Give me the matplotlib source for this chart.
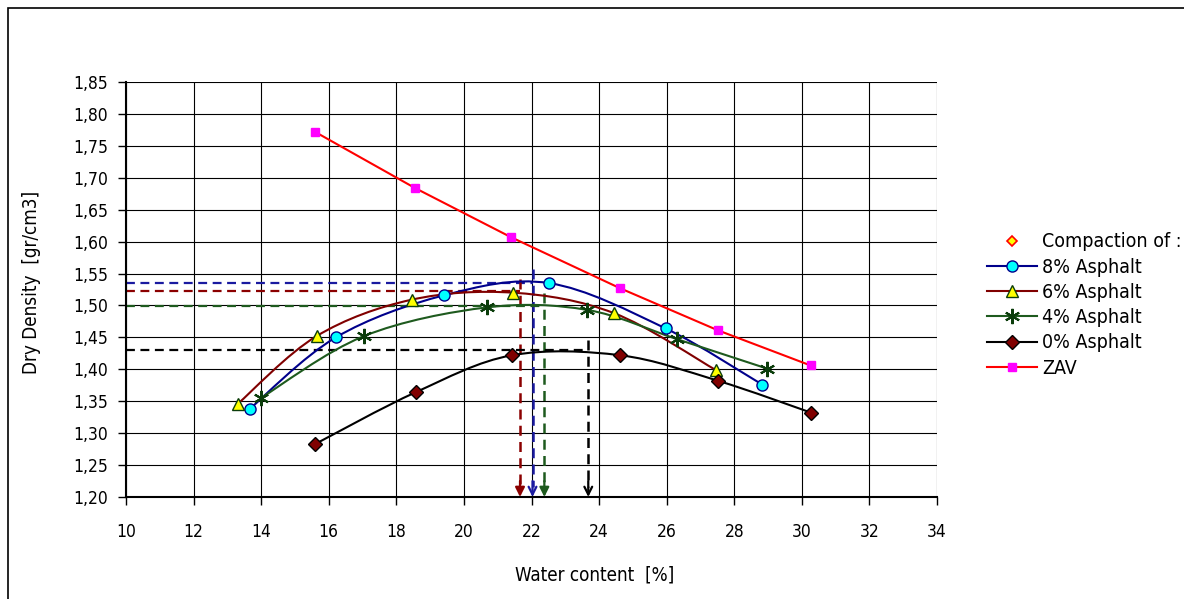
import matplotlib
matplotlib.use('Agg')
import matplotlib.pyplot as plt
import numpy as np
from matplotlib.path import Path
from matplotlib.patches import PathPatch, Rectangle
from matplotlib.lines import Line2D
from matplotlib.ticker import FuncFormatter, MultipleLocator

plt.rcParams['font.family'] = ['DejaVu Sans']
plt.rcParams['font.stretch'] = 'condensed'

# data
w_8 = [13.66, 16.21, 19.42, 22.52, 25.97, 28.83]
d_8 = [1.338, 1.450, 1.516, 1.535, 1.464, 1.376]
w_6 = [13.31, 15.64, 18.45, 21.46, 24.44, 27.45]
d_6 = [1.346, 1.452, 1.509, 1.520, 1.488, 1.399]
w_4 = [13.99, 17.04, 20.69, 23.65, 26.32, 28.98]
d_4 = [1.355, 1.452, 1.497, 1.493, 1.447, 1.401]
w_0 = [15.60, 18.57, 21.42, 24.63, 27.52, 30.28]
d_0 = [1.283, 1.364, 1.422, 1.422, 1.382, 1.332]
w_zav = [15.59, 18.55, 21.39, 24.62, 27.52, 30.26]
d_zav = [1.772, 1.684, 1.607, 1.527, 1.461, 1.406]

# optimum moisture / max dry density guide lines (8%, 6%, 4%, 0%)
opt_w = [22.03, 21.66, 22.38, 23.68]
max_d = [1.535, 1.522, 1.499, 1.430]
guide_top = [1.557, 1.542, 1.519, 1.446]
guide_col = ['#1a1aa0', '#8b0000', '#1e5a1e', 'black']
guide_head = ['->', '-|>', '-|>', '->']


def smooth_path(xs, ys):
    # excel style smoothed line (catmull-rom as bezier)
    p = np.column_stack([xs, ys])
    n = len(p)
    verts = [p[0]]
    codes = [Path.MOVETO]
    for i in range(n - 1):
        p0 = p[i - 1] if i > 0 else p[i]
        p3 = p[i + 2] if i + 2 < n else p[i + 1]
        c1 = p[i] + (p[i + 1] - p0) / 6
        c2 = p[i + 1] - (p3 - p[i]) / 6
        verts += [c1, c2, p[i + 1]]
        codes += [Path.CURVE4] * 3
    return Path(verts, codes)


fig = plt.figure(figsize=(11.84, 5.99), dpi=100)
ax = fig.add_axes([126 / 1184, 102 / 599, 811 / 1184, 415 / 599])
fig.patches.append(Rectangle((8 / 1184, -0.1), 1.2, 1.1 - 8 / 599, transform=fig.transFigure,
                             fill=False, ec='black', lw=1.2))

ax.set_xlim(10, 34)
ax.set_ylim(1.20, 1.85)
ax.xaxis.set_major_locator(MultipleLocator(2))
ax.yaxis.set_major_locator(MultipleLocator(0.05))
ax.yaxis.set_major_formatter(FuncFormatter(lambda v, p: f'{v:.2f}'.replace('.', ',')))
ax.grid(True, color='black', lw=0.8)
ax.set_axisbelow(True)
for s in ['top', 'right']:
    ax.spines[s].set_visible(False)
ax.spines['left'].set_linewidth(1.5)
ax.spines['bottom'].set_linewidth(1.5)
ax.tick_params(axis='y', direction='out', length=6, width=1, pad=7, labelsize=12.5)
ax.tick_params(axis='x', direction='out', length=6, width=1, pad=13, labelsize=12.5)

# guide lines
for x, y, top, c, hs in zip(opt_w, max_d, guide_top, guide_col, guide_head):
    ax.plot([10, x], [y, y], ls=(0, (4, 2.5)), color=c, lw=1.6, zorder=2)
    ax.plot([x, x], [top, 1.215], ls=(0, (4, 2.5)), color=c, lw=1.8, zorder=2)
    ax.annotate('', xy=(x, 1.20), xytext=(x, 1.225),
                arrowprops=dict(arrowstyle=hs, color=c, lw=1.6, mutation_scale=14,
                                shrinkA=0, shrinkB=0), zorder=2)

series = [
    (w_8, d_8, '#00008b', dict(marker='o', mfc='#00ffff', mec='#00008b', ms=8), '8% Asphalt'),
    (w_6, d_6, '#800000', dict(marker='^', mfc='#ffff00', mec='#0b3d0b', ms=9), '6% Asphalt'),
    (w_4, d_4, '#1e5a1e', dict(marker=(6, 2, 0), mfc='#0b3d0b', mec='#0b3d0b', ms=11, mew=1.5), '4% Asphalt'),
    (w_0, d_0, 'black', dict(marker='D', mfc='#800000', mec='black', ms=7), '0% Asphalt'),
]
handles = [Line2D([], [], ls='none', marker='D', ms=5, mfc='#ffff00', mec='#ff0000', mew=1.2,
                  label='Compaction of :')]
for xs, ys, c, mk, lab in series:
    ax.add_patch(PathPatch(smooth_path(xs, ys), fc='none', ec=c, lw=1.5, zorder=3))
    ax.plot(xs, ys, ls='none', zorder=4, **mk)
    handles.append(Line2D([], [], color=c, lw=1.5, label=lab, **mk))

ax.plot(w_zav, d_zav, color='#ff0000', lw=1.5, marker='s', ms=6, mfc='#ff00ff', mec='#ff00ff', zorder=3)
handles.append(Line2D([], [], color='#ff0000', lw=1.5, marker='s', ms=6, mfc='#ff00ff', mec='#ff00ff', label='ZAV'))

fig.legend(handles=handles, loc='center left', bbox_to_anchor=(977 / 1184, 1 - 305 / 599),
           frameon=False, fontsize=14, handlelength=2.6, labelspacing=0.32, handletextpad=0.25,
           borderpad=0)

fig.text(595 / 1184, 1 - 575 / 599, 'Water content  [%]', ha='center', va='center', fontsize=13.5)
fig.text(32 / 1184, 1 - 282 / 599, 'Dry Density  [gr/cm3]', ha='center', va='center',
         rotation=90, fontsize=13.5)

fig.savefig('out.png', dpi=100)
